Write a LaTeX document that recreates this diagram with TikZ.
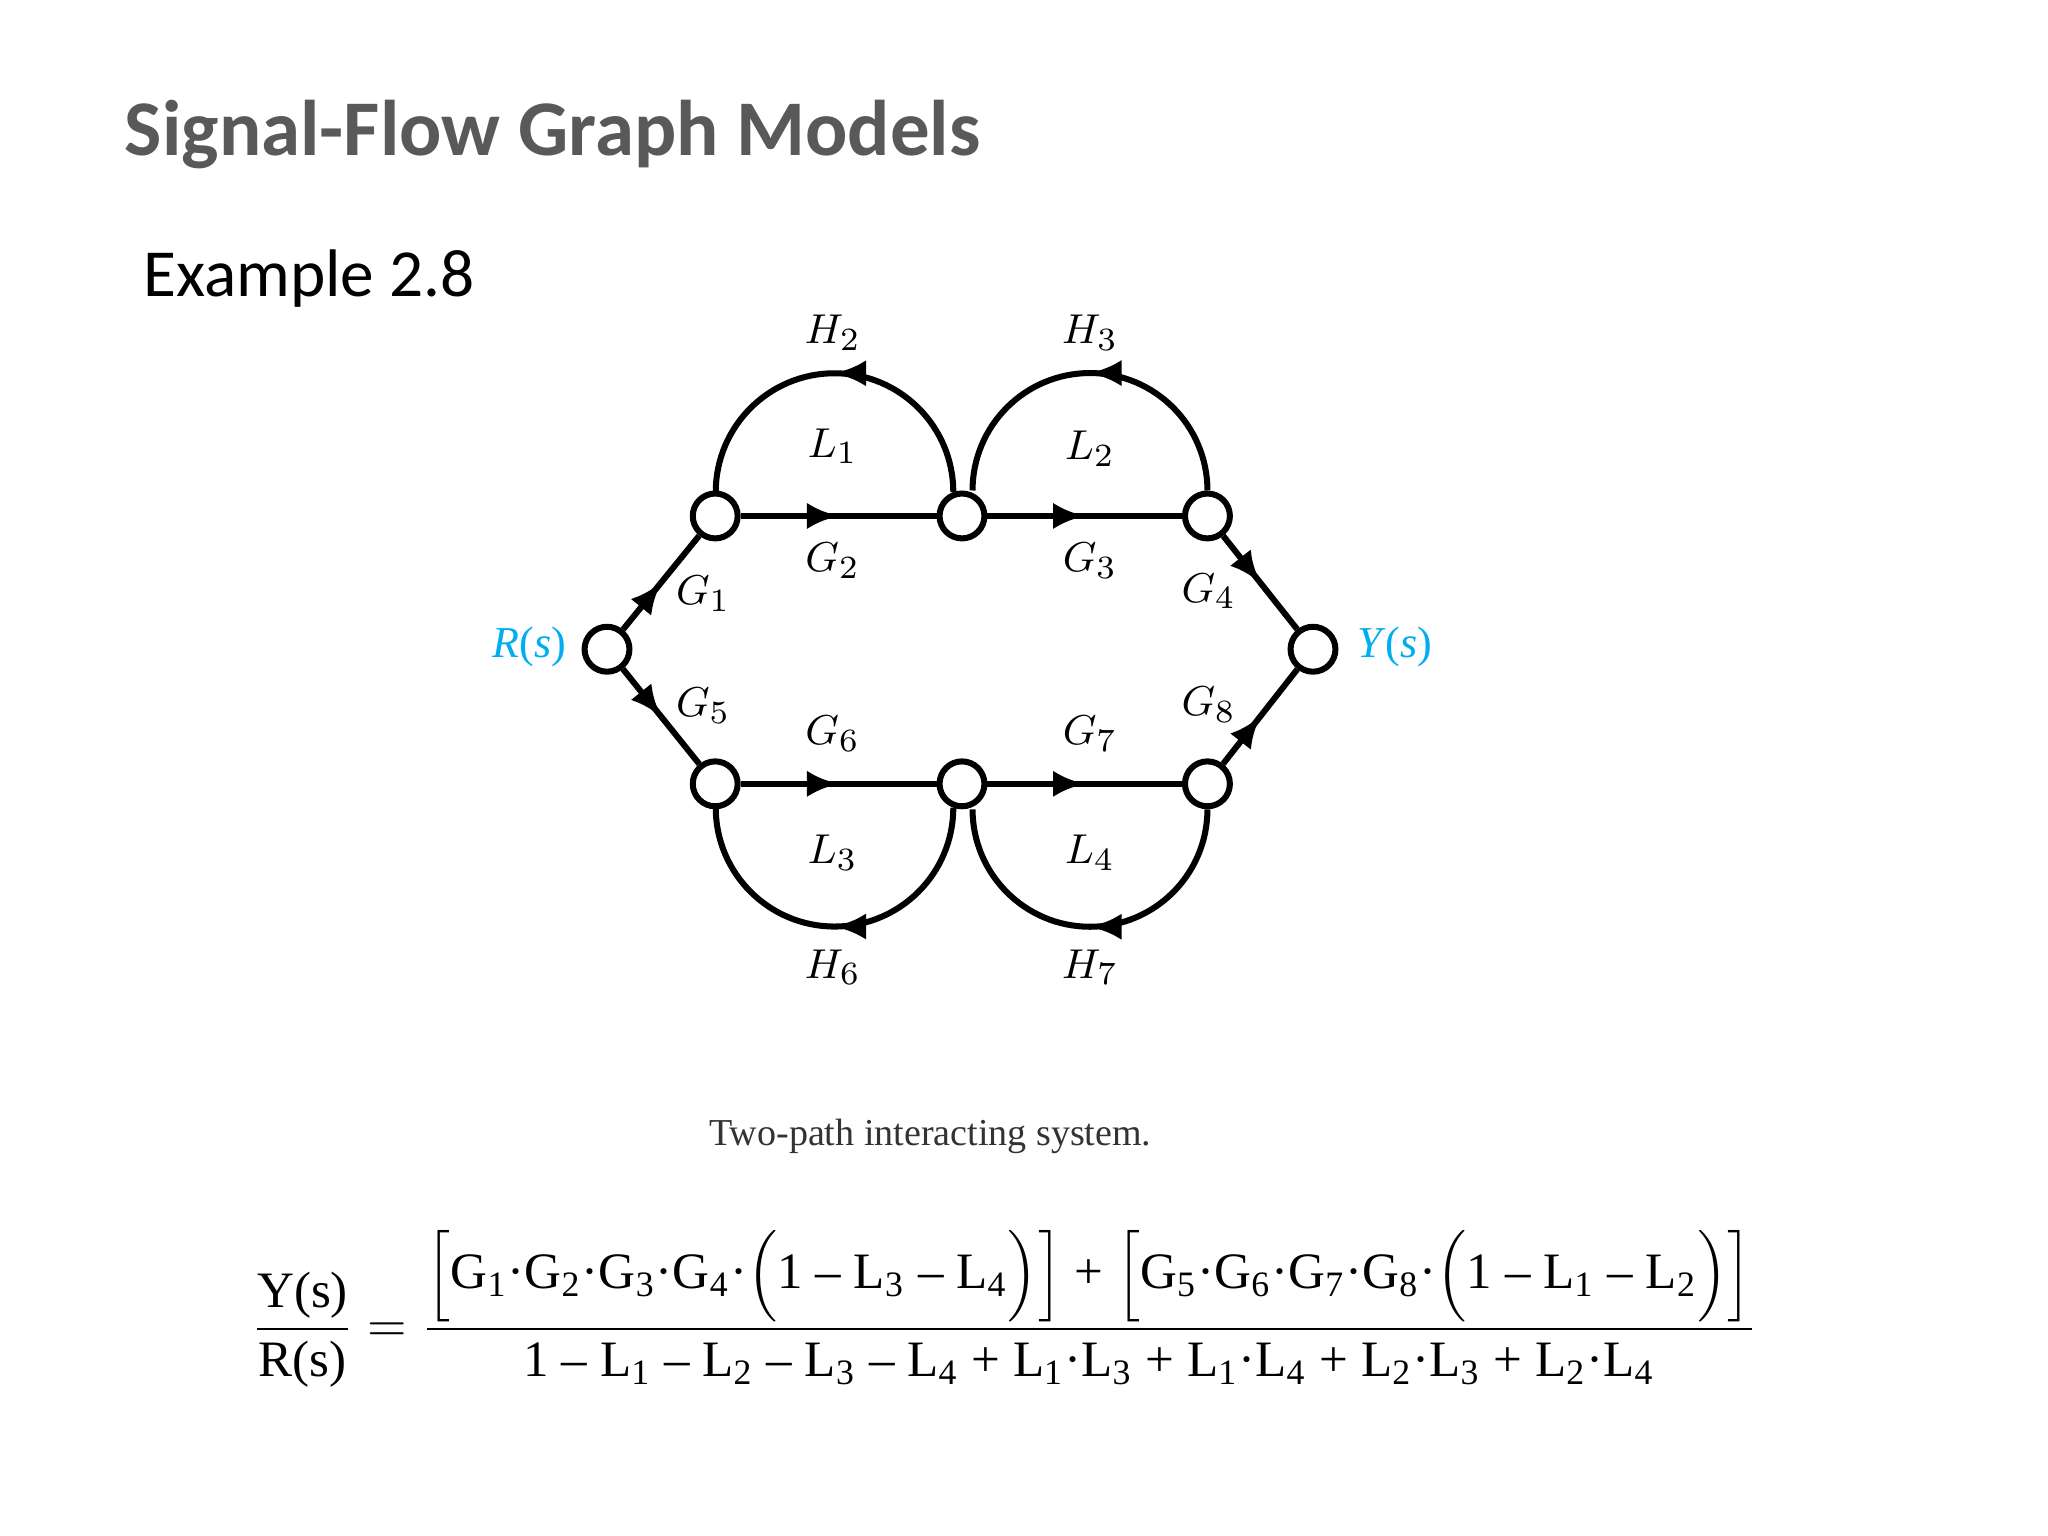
\documentclass[tikz,border=0pt]{standalone}
\usepackage{amsmath}
\usepackage{fontspec}
\setmainfont{Liberation Serif}
\newfontfamily\calib{Carlito}
\usetikzlibrary{arrows.meta,decorations.markings}
\begin{document}
\begin{tikzpicture}[x=0.01cm,y=0.01cm,
  sn/.style={circle,draw,line width=1.3pt,minimum size=0.34cm,inner sep=0pt,fill=white},
  br/.style={line width=1.3pt,postaction={decorate},decoration={markings,mark=at position 0.5 with {\arrow{Latex[length=0.24cm,width=0.2cm]}}}},
  lb/.style={font=\fontsize{9.5}{12}\selectfont}]
\useasboundingbox (0,0) rectangle (1552,-1164);
\node[anchor=west,inner sep=0pt,font=\calib\bfseries\fontsize{17}{20}\selectfont,text=black!65] (title) at (94,-102) {Signal-Flow Graph Models};
\node[anchor=west,inner sep=0pt,font=\calib\fontsize{14.5}{17}\selectfont] (ex) at (108,-211) {Example 2.8};
\node[sn] (R) at (460,-492) {};
\node[sn] (Y) at (995,-492) {};
\node[sn] (A) at (542,-391) {};
\node[sn] (B) at (729,-391) {};
\node[sn] (C) at (915,-391) {};
\node[sn] (D) at (542,-594) {};
\node[sn] (E) at (729,-594) {};
\node[sn] (F) at (915,-594) {};
\draw[br] (R) -- (A);
\draw[br] (A) -- (B);
\draw[br] (B) -- (C);
\draw[br] (C) -- (Y);
\draw[br] (R) -- (D);
\draw[br] (D) -- (E);
\draw[br] (E) -- (F);
\draw[br] (F) -- (Y);
\draw[br] (B.110) arc[start angle=0,end angle=180,radius=90];
\draw[br] (C.north) arc[start angle=0,end angle=180,radius=89];
\draw[br] (E.250) arc[start angle=0,end angle=-180,radius=90];
\draw[br] (F.south) arc[start angle=0,end angle=-180,radius=89];
\node[lb] (h2) at (631,-252) {$H_2$};
\node[lb] (l1) at (631,-338) {$L_1$};
\node[lb] (g2) at (631,-425) {$G_2$};
\node[lb] (h3) at (826,-252) {$H_3$};
\node[lb] (l2) at (826,-340) {$L_2$};
\node[lb] (g3) at (826,-425) {$G_3$};
\node[lb] (g1) at (533,-450) {$G_1$};
\node[lb] (g5) at (533,-535) {$G_5$};
\node[lb] (g4) at (916,-448) {$G_4$};
\node[lb] (g8) at (916,-534) {$G_8$};
\node[lb] (g6) at (631,-556) {$G_6$};
\node[lb] (g7) at (826,-556) {$G_7$};
\node[lb] (l3) at (631,-646) {$L_3$};
\node[lb] (l4) at (826,-646) {$L_4$};
\node[lb] (h6) at (631,-733) {$H_6$};
\node[lb] (h7) at (826,-733) {$H_7$};
\node[lb,text=cyan] (rs) at (401,-490) {\textit{R}(\textit{s})};
\node[lb,text=cyan] (ys) at (1057,-490) {\textit{Y}(\textit{s})};
\node[font=\fontsize{8.2}{10}\selectfont,text=black!80] (cap) at (705,-861) {Two-path interacting system.};
\node[anchor=west,inner sep=0pt,font=\fontsize{11}{13}\selectfont] (eq) at (190,-992) {$\dfrac{\mbox{Y(s)}}{\mbox{R(s)}}=\dfrac{\mbox{$\Big[$G\textsubscript{1}·G\textsubscript{2}·G\textsubscript{3}·G\textsubscript{4}·$\Big($1 – L\textsubscript{3} – L\textsubscript{4}$\Big)\Big]$ + $\Big[$G\textsubscript{5}·G\textsubscript{6}·G\textsubscript{7}·G\textsubscript{8}·$\Big($1 – L\textsubscript{1} – L\textsubscript{2}$\Big)\Big]$}}{\mbox{1 – L\textsubscript{1} – L\textsubscript{2} – L\textsubscript{3} – L\textsubscript{4} + L\textsubscript{1}·L\textsubscript{3} + L\textsubscript{1}·L\textsubscript{4} + L\textsubscript{2}·L\textsubscript{3} + L\textsubscript{2}·L\textsubscript{4}}}$};
\end{tikzpicture}
\end{document}
